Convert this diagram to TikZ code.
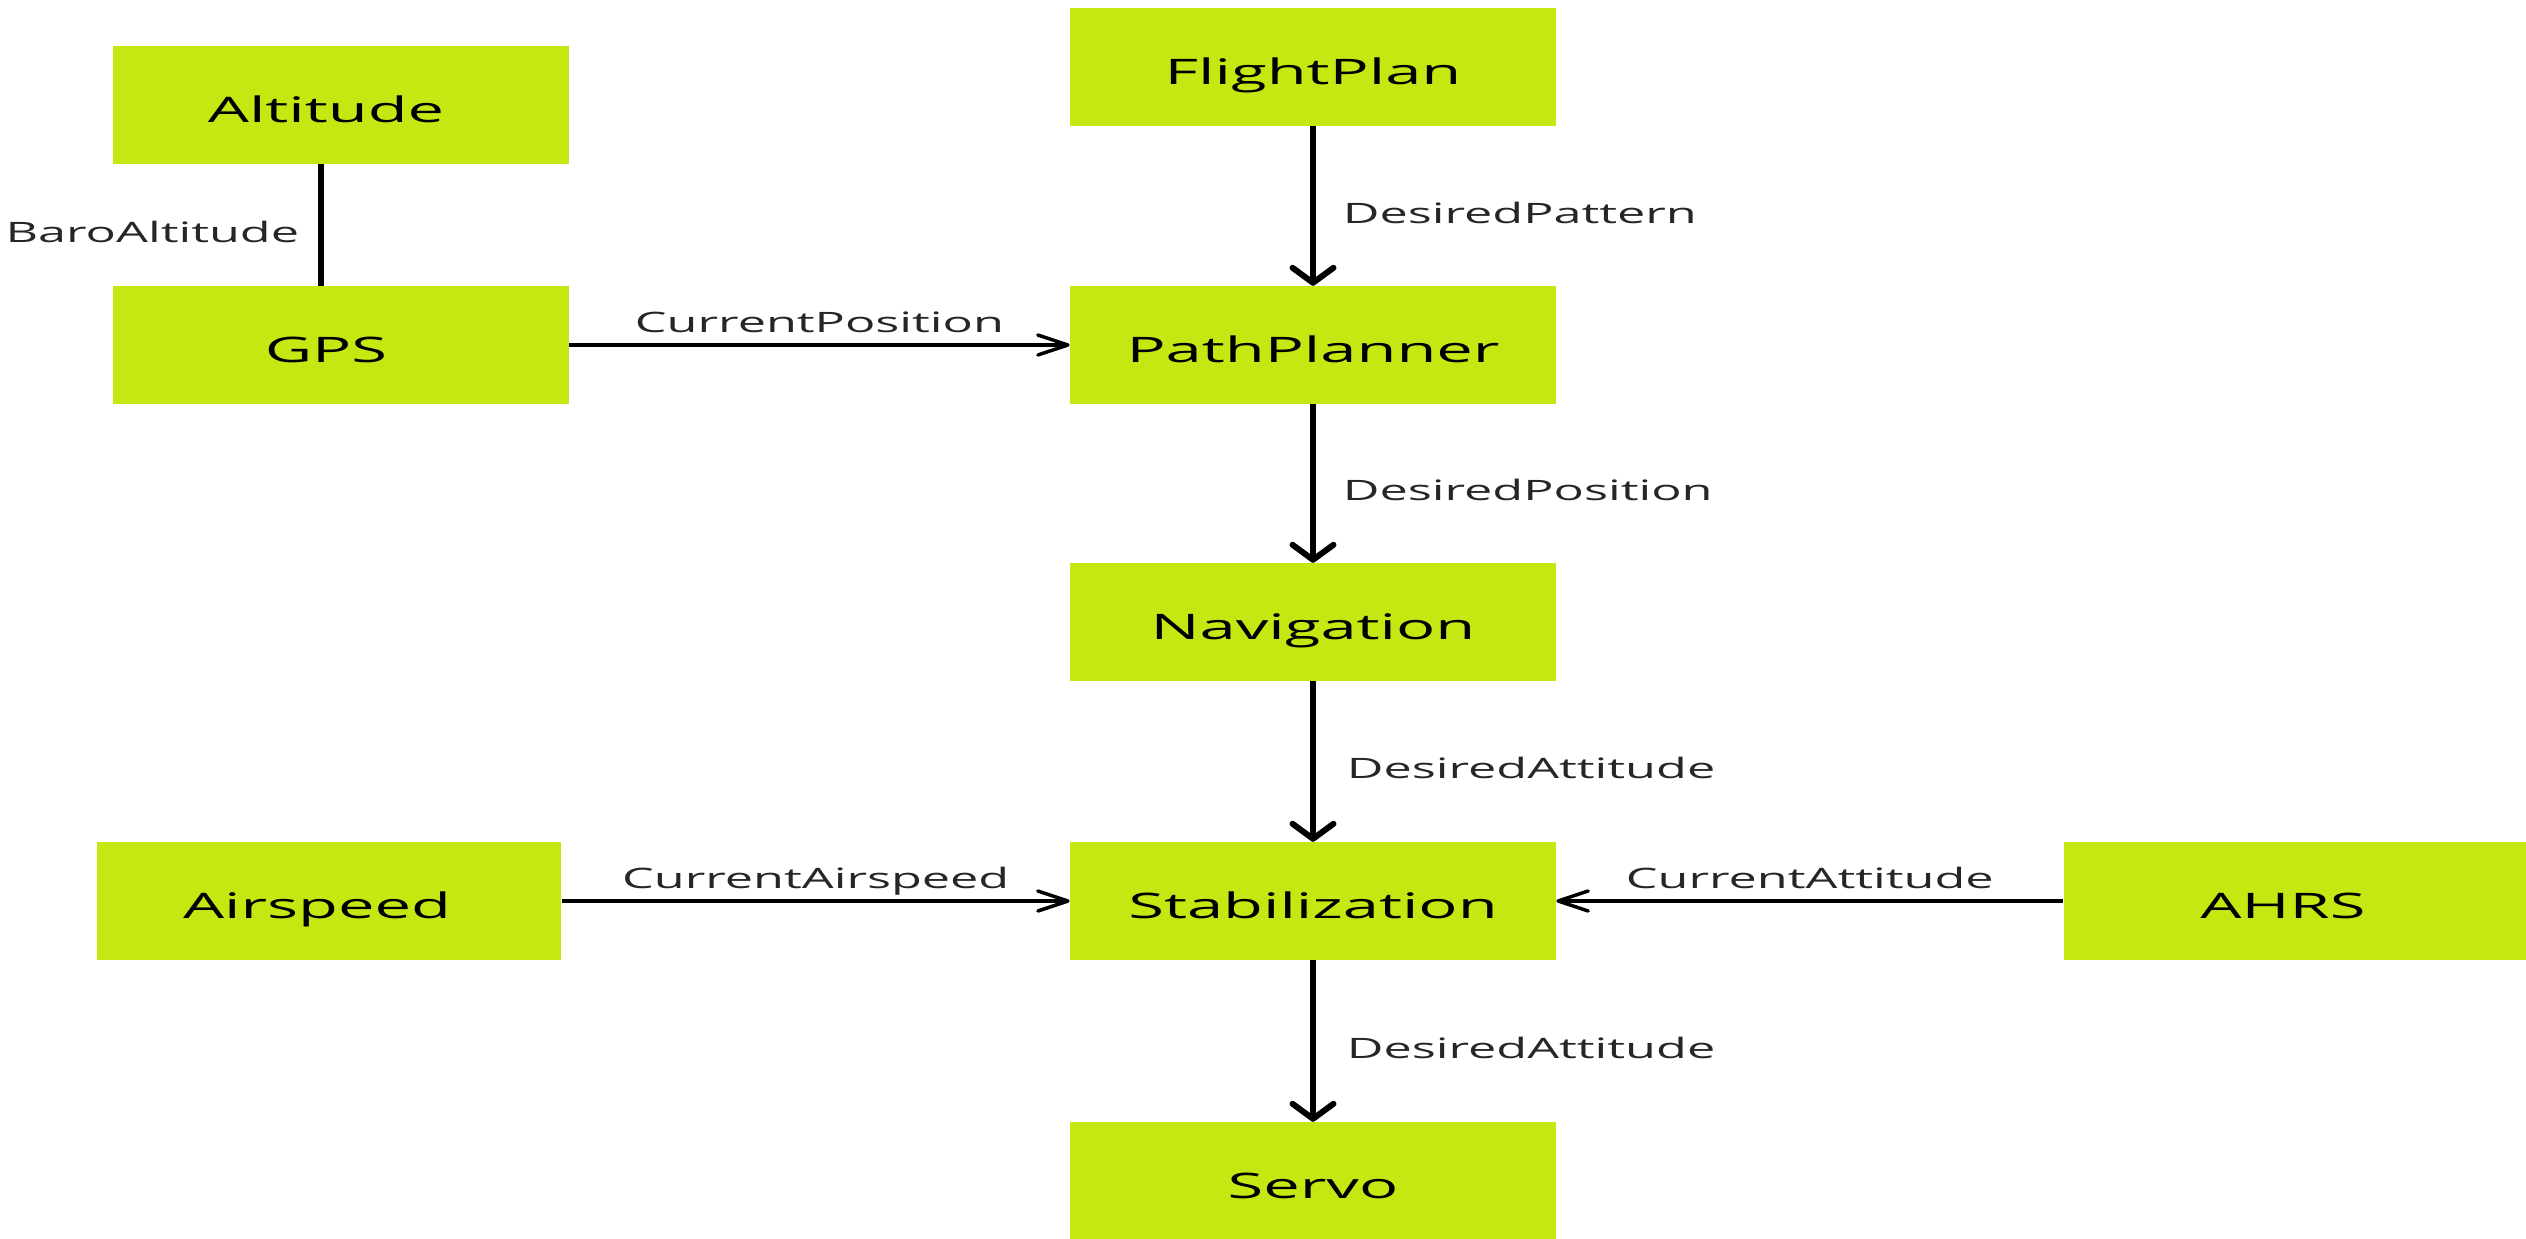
\documentclass[tikz,border=0pt]{standalone}
\usepackage{fontspec}
\setmainfont[FakeStretch=1.85]{Open Sans}
\newfontfamily\lblfont[FakeStretch=1.79]{Open Sans}
\usetikzlibrary{arrows.meta}
\usetikzlibrary{calc}
\definecolor{boxgreen}{RGB}{196,232,18}
\tikzset{
  block/.style={fill=boxgreen,minimum width=4.85cm,minimum height=1.17cm,font=\fontsize{10}{12}\selectfont,text height=10pt,text depth=0pt},
  hflow/.style={line width=1pt,-{Straight Barb[length=3mm,width=2mm,round]}},
  vflow/.style={line width=1.7pt,-{Straight Barb[length=1.5mm,width=4.1mm,round]}},
  lbl/.style={font=\lblfont\fontsize{8}{10}\selectfont,text=black!85,text height=9.7pt,text depth=0pt,inner sep=3.1pt}
}
\begin{document}
\begin{tikzpicture}[x=0.01cm,y=-0.01cm]
\useasboundingbox (0,0) rectangle (2526,1239);
\node (altitude) at (341,105) [block,minimum width=4.55cm] {\hspace*{-0.3cm}Altitude};
\node (gps) at (341,345) [block,minimum width=4.55cm] {\hspace*{-0.3cm}GPS};
\node (flightplan) at (1313,67) [block] {FlightPlan};
\node (pathplanner) at (1313,345) [block] {PathPlanner};
\node (navigation) at (1313,622) [block] {Navigation};
\node (stab) at (1313,901) [block] {Stabilization};
\node (servo) at (1313,1181) [block] {Servo};
\node (airspeed) at (329,901) [block,minimum width=4.64cm] {\hspace*{-0.24cm}Airspeed};
\node (ahrs) at (2295,901) [block,minimum width=4.62cm] {\hspace*{-0.24cm}AHRS};
\draw[line width=1.7pt] ([xshift=-0.2cm]altitude.south) -- node[lbl,left,xshift=-0.08cm] {BaroAltitude} ([xshift=-0.2cm]gps.north);
\draw[hflow] (gps) -- node[lbl,above] {CurrentPosition} (pathplanner);
\draw[vflow] (flightplan) -- node[lbl,right,xshift=0.16cm] {DesiredPattern} (pathplanner);
\draw[vflow] (pathplanner) -- node[lbl,right,xshift=0.16cm] {DesiredPosition} (navigation);
\draw[vflow] (navigation) -- node[lbl,right,xshift=0.2cm] {DesiredAttitude} (stab);
\draw[hflow] (airspeed) -- node[lbl,above] {CurrentAirspeed} (stab);
\draw[hflow] (ahrs) -- node[lbl,above] {CurrentAttitude} (stab);
\draw[vflow] (stab) -- node[lbl,right,xshift=0.2cm] {DesiredAttitude} (servo);
\end{tikzpicture}
\end{document}
